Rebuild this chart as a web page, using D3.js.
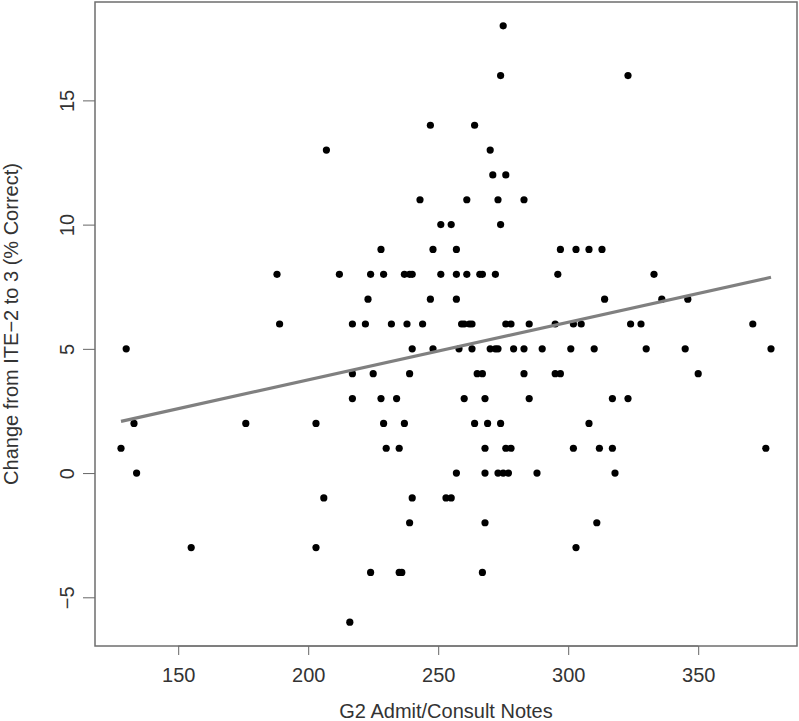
<!DOCTYPE html>
<html>
<head>
<meta charset="utf-8">
<script src="https://cdn.jsdelivr.net/npm/d3@7"></script>
<style>
  body { margin: 0; background: #fff; }
  svg text { font-family: "Liberation Sans", Arial, sans-serif; fill: #333; }
</style>
</head>
<body>
<svg id="chart" width="799" height="721"></svg>
<script>
// values, one row of points per y value
let notes = [
    275,
    274, 323,
    247, 264,
    207, 270,
    271, 276,
    243, 261, 273, 283,
    251, 255, 274,
    228, 248, 257, 297, 303, 308, 313,
    188, 212, 224, 229, 237, 239, 240, 251, 257, 261, 266, 267, 272, 296, 333,
    223, 247, 257, 314, 336, 346,
    189, 217, 222, 232, 238, 244, 259, 260, 262, 263, 276, 278, 285, 295, 302, 305, 324, 328, 371,
    130, 240, 248, 258, 263, 270, 272, 273, 279, 283, 290, 301, 310, 330, 345, 378,
    217, 225, 239, 265, 267, 283, 295, 297, 350,
    217, 228, 234, 260, 268, 285, 317, 323,
    133, 176, 203, 229, 237, 264, 269, 274, 308,
    128, 230, 235, 268, 276, 278, 302, 312, 317, 376,
    134, 257, 268, 273, 275, 277, 288, 318,
    206, 240, 253, 255,
    239, 268, 311,
    155, 203, 303,
    224, 235, 236, 267,
    216
];
let change = [
    18,
    16, 16,
    14, 14,
    13, 13,
    12, 12,
    11, 11, 11, 11,
    10, 10, 10,
    9, 9, 9, 9, 9, 9, 9,
    8, 8, 8, 8, 8, 8, 8, 8, 8, 8, 8, 8, 8, 8, 8,
    7, 7, 7, 7, 7, 7,
    6, 6, 6, 6, 6, 6, 6, 6, 6, 6, 6, 6, 6, 6, 6, 6, 6, 6, 6,
    5, 5, 5, 5, 5, 5, 5, 5, 5, 5, 5, 5, 5, 5, 5, 5,
    4, 4, 4, 4, 4, 4, 4, 4, 4,
    3, 3, 3, 3, 3, 3, 3, 3,
    2, 2, 2, 2, 2, 2, 2, 2, 2,
    1, 1, 1, 1, 1, 1, 1, 1, 1, 1,
    0, 0, 0, 0, 0, 0, 0, 0,
    -1, -1, -1, -1,
    -2, -2, -2,
    -3, -3, -3,
    -4, -4, -4, -4,
    -6
];
// fitted line as drawn in the reference (points overlap, so a refit drifts)
let fitIntercept = -0.89;
let fitSlope = 0.0232;
let xTicks = [150, 200, 250, 300, 350];
let yTicks = [-5, 0, 5, 10, 15];
let xTitle = "G2 Admit/Consult Notes";
let yTitle = "Change from ITE\u22122 to 3 (% Correct)";

let svg = d3.select("#chart");
let box = { left: 95, right: 797, top: 2, bottom: 646 };
let points = notes.map(function(v, i) { return [v, change[i]]; });

// R style limits: data range padded by 4% each side
function padded(values) {
    let ext = d3.extent(values);
    let pad = (ext[1] - ext[0]) * 0.04;
    return [ext[0] - pad, ext[1] + pad];
}
let xScale = d3.scaleLinear().domain(padded(notes)).range([box.left, box.right]);
let yScale = d3.scaleLinear().domain(padded(change)).range([box.bottom, box.top]);
let xExt = d3.extent(notes);

// axes
let xAxis = svg.append("g")
    .attr("transform", `translate(0,${box.bottom})`)
    .call(d3.axisBottom(xScale).tickValues(xTicks).tickSize(9).tickFormat(d3.format("d")));
xAxis.selectAll("text").attr("y", 36).attr("dy", 0).style("font-size", "20px");

let yAxis = svg.append("g")
    .attr("transform", `translate(${box.left},0)`)
    .call(d3.axisLeft(yScale).tickValues(yTicks).tickSize(12).tickFormat(d3.format("d")));
yAxis.selectAll("text")
    .attr("x", 0).attr("y", 0).attr("dy", 0)
    .attr("text-anchor", "middle")
    .attr("transform", "translate(-21,0) rotate(-90)")
    .style("font-size", "20px");

// axis line only spans the ticks, as in R
[xAxis, yAxis].forEach(function(g) {
    g.select(".domain").remove();
    g.selectAll(".tick line").attr("stroke", "#666");
});
svg.append("line")
    .attr("x1", xScale(xTicks[0])).attr("x2", xScale(xTicks[xTicks.length - 1]))
    .attr("y1", box.bottom).attr("y2", box.bottom)
    .attr("stroke", "#666");

// plot frame
svg.append("rect")
    .attr("x", box.left).attr("y", box.top)
    .attr("width", box.right - box.left).attr("height", box.bottom - box.top)
    .attr("fill", "none")
    .attr("stroke", "#6e6e6e")
    .attr("stroke-width", 1.5);

svg.append("g").selectAll("circle")
    .data(points)
    .enter()
        .append("circle")
        .attr("cx", function(d) { return xScale(d[0]); })
        .attr("cy", function(d) { return yScale(d[1]); })
        .attr("r", 3.6)
        .attr("fill", "#000");

svg.append("line")
    .attr("x1", xScale(xExt[0])).attr("y1", yScale(fitIntercept + fitSlope * xExt[0]))
    .attr("x2", xScale(xExt[1])).attr("y2", yScale(fitIntercept + fitSlope * xExt[1]))
    .attr("stroke", "#808080")
    .attr("stroke-width", 3.2);

// titles
svg.append("text")
    .text(xTitle)
    .attr("x", (box.left + box.right) / 2)
    .attr("y", 718)
    .attr("text-anchor", "middle")
    .style("font-size", "20px");
svg.append("text")
    .text(yTitle)
    .attr("transform", `translate(18,${(box.top + box.bottom) / 2}) rotate(-90)`)
    .attr("text-anchor", "middle")
    .style("font-size", "20px");
</script>
</body>
</html>
